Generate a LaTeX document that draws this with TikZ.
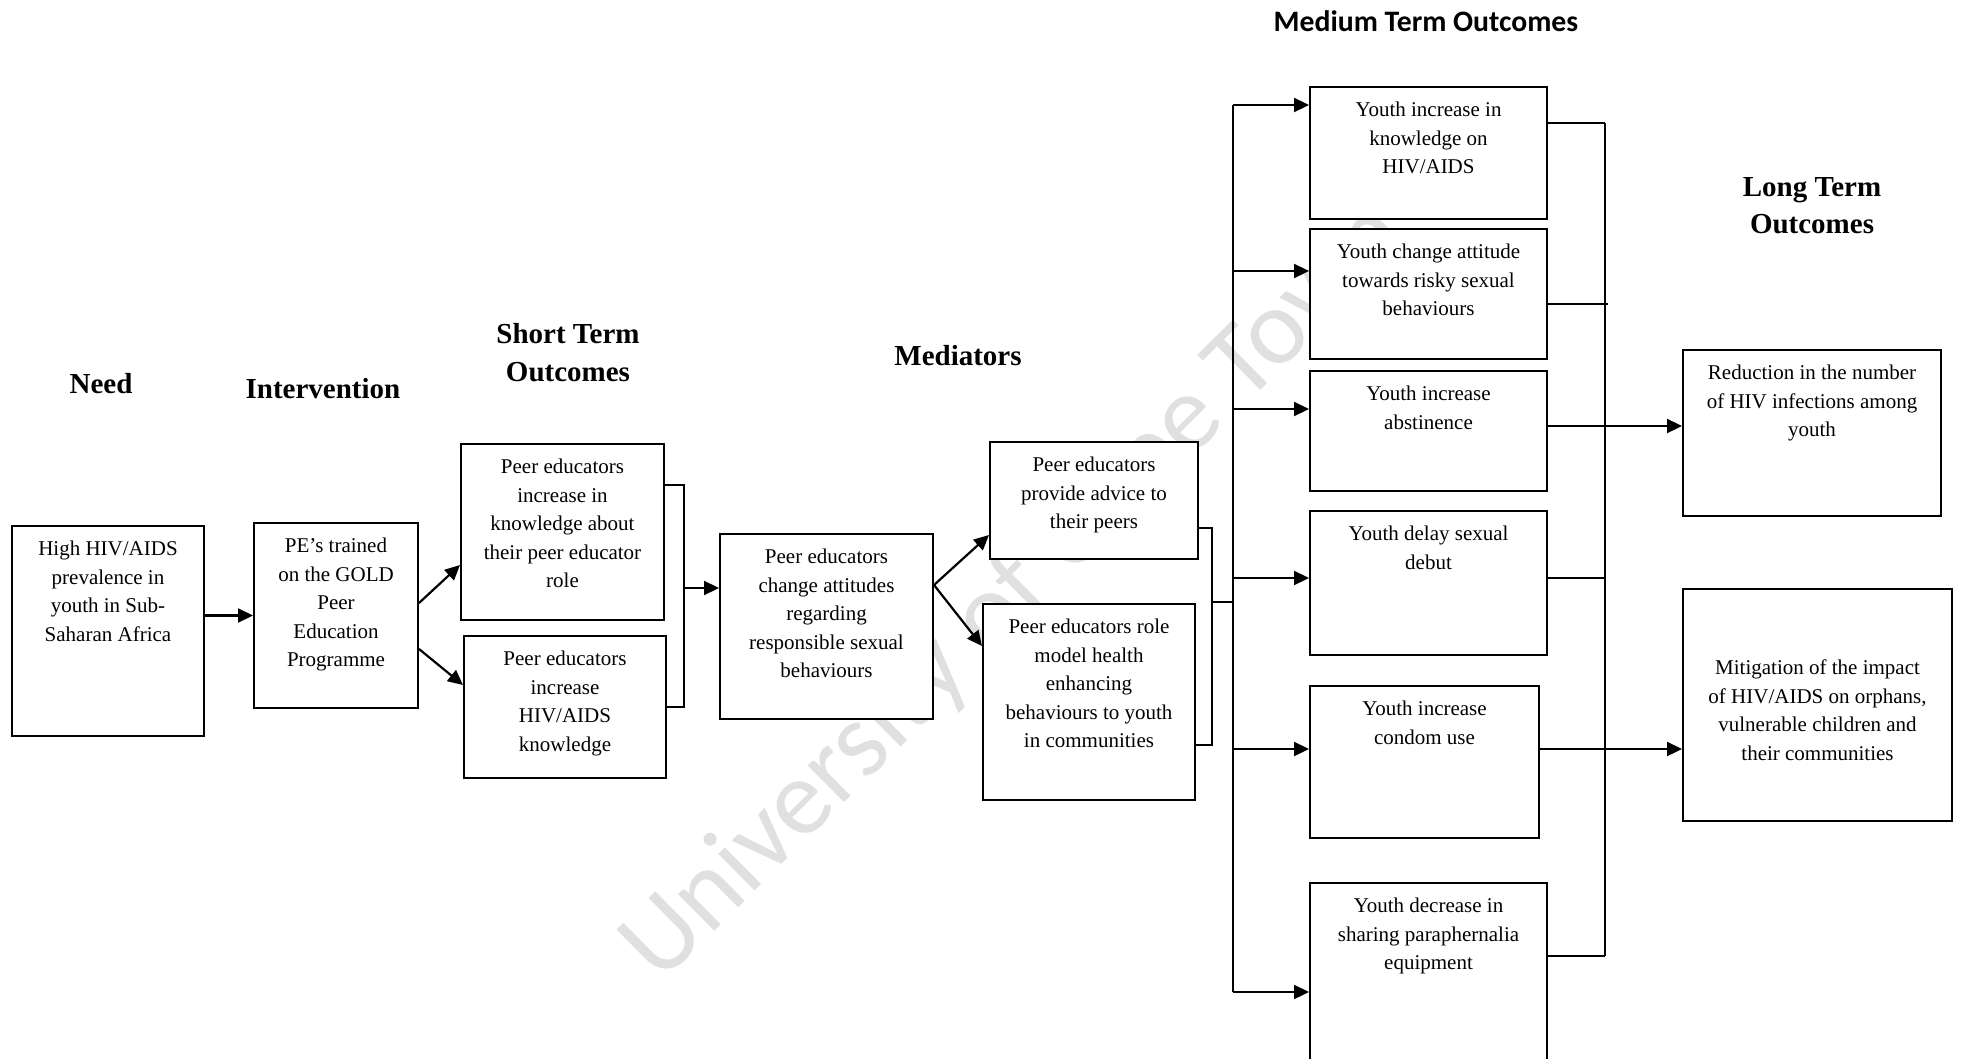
\documentclass[tikz,border=0pt]{standalone}
\usepackage{fontspec}
\setmainfont{Liberation Serif}
\newfontfamily\wmfont{Carlito}
\newfontfamily\calfont{Carlito}
\usetikzlibrary{arrows.meta}
\definecolor{wmgray}{RGB}{224,224,224}
\begin{document}
\begin{tikzpicture}[x=1pt,y=-1pt,
  box/.style={draw, line width=2pt, fill=white, inner sep=0pt, anchor=north west},
  txt/.style={anchor=north, inner sep=0pt, align=center, font=\fontsize{21}{28.5}\selectfont},
  head/.style={inner sep=0pt, align=center, font=\fontsize{29}{38}\selectfont\bfseries},
  arr/.style={line width=2.2pt, -{Triangle[length=15pt,width=14pt]}},
  ln/.style={line width=1.9pt},
  br/.style={line width=1.7pt}]
\fill[white] (0,0) rectangle (1961,1059);
\useasboundingbox (0,0) rectangle (1961,1059);
% watermark
\node[anchor=base west, inner sep=0pt, rotate=44.7, text=wmgray, font=\wmfont\fontsize{108}{108}\selectfont] (wm) at (660,985) {University of Cape Town};
% headings
\node[head] (h-need) at (101,384) {Need};
\node[head] (h-int) at (323,389) {Intervention};
\node[head] (h-st) at (568,353) {Short Term\\Outcomes};
\node[head] (h-med) at (958,356) {Mediators};
\node[inner sep=0pt, font=\calfont\bfseries\fontsize{29.7}{34}\selectfont] (h-mt) at (1426,21) {Medium Term Outcomes};
\node[head, font=\fontsize{29}{37}\selectfont\bfseries] (h-lt) at (1812,206) {Long Term\\Outcomes};
% boxes
\node[box, minimum width=192pt, minimum height=210pt] (need) at (11,525) {};
\node[box, minimum width=164pt, minimum height=185pt] (interv) at (253,522) {};
\node[box, minimum width=203pt, minimum height=176pt] (st1) at (460,443) {};
\node[box, minimum width=202pt, minimum height=142pt] (st2) at (463,635) {};
\node[box, minimum width=213pt, minimum height=185pt] (medl) at (719,533) {};
\node[box, minimum width=208pt, minimum height=117pt] (med1) at (989,441) {};
\node[box, minimum width=212pt, minimum height=196pt] (med2) at (982,603) {};
\node[box, minimum width=237pt, minimum height=132pt] (m1) at (1309,86) {};
\node[box, minimum width=237pt, minimum height=130pt] (m2) at (1309,228) {};
\node[box, minimum width=237pt, minimum height=120pt] (m3) at (1309,370) {};
\node[box, minimum width=237pt, minimum height=144pt] (m4) at (1309,510) {};
\node[box, minimum width=229pt, minimum height=152pt] (m5) at (1309,685) {};
\node[box, minimum width=237pt, minimum height=200pt] (m6) at (1309,882) {};
\node[box, minimum width=258pt, minimum height=166pt] (l1) at (1682,349) {};
\node[box, minimum width=269pt, minimum height=232pt] (l2) at (1682,588) {};
% texts
\node[txt] (need-t) at ([yshift=-16pt]need.north) {High HIV/AIDS\\prevalence in\\youth in Sub-\\Saharan Africa};
\node[txt] (interv-t) at ([yshift=-16pt]interv.north) {PE’s trained\\on the GOLD\\Peer\\Education\\Programme};
\node[txt] (st1-t) at ([yshift=-16pt]st1.north) {Peer educators\\increase in\\knowledge about\\their peer educator\\role};
\node[txt] (st2-t) at ([yshift=-16pt]st2.north) {Peer educators\\increase\\HIV/AIDS\\knowledge};
\node[txt] (medl-t) at ([yshift=-16pt]medl.north) {Peer educators\\change attitudes\\regarding\\responsible sexual\\behaviours};
\node[txt] (med1-t) at ([yshift=-16pt]med1.north) {Peer educators\\provide advice to\\their peers};
\node[txt] (med2-t) at ([yshift=-16pt]med2.north) {Peer educators role\\model health\\enhancing\\behaviours to youth\\in communities};
\node[txt] (m1-t) at ([yshift=-16pt]m1.north) {Youth increase in\\knowledge on\\HIV/AIDS};
\node[txt] (m2-t) at ([yshift=-16pt]m2.north) {Youth change attitude\\towards risky sexual\\behaviours};
\node[txt] (m3-t) at ([yshift=-16pt]m3.north) {Youth increase\\abstinence};
\node[txt] (m4-t) at ([yshift=-16pt]m4.north) {Youth delay sexual\\debut};
\node[txt] (m5-t) at ([yshift=-16pt]m5.north) {Youth increase\\condom use};
\node[txt] (m6-t) at ([yshift=-16pt]m6.north) {Youth decrease in\\sharing paraphernalia\\equipment};
\node[txt] (l1-t) at ([yshift=-16pt]l1.north) {Reduction in the number\\of HIV infections among\\youth};
\node[txt] (l2-t) at ([yshift=-72pt]l2.north) {Mitigation of the impact\\of HIV/AIDS on orphans,\\vulnerable children and\\their communities};
% connectors: need -> intervention -> short term
\draw[arr] (need.east |- interv.west) -- (interv.west);
\draw[arr] ([yshift=12.5pt]interv.east) -- ([yshift=-33pt]st1.west);
\draw[arr] ([yshift=-33.5pt]interv.east) -- ([yshift=22pt]st2.west);
% short-term bracket
\coordinate (stx) at (684,588);
\draw[br] ([yshift=47pt]st1.east) -| (stx) |- (st2.east);
\draw[arr] (stx) -- (medl.west |- stx);
% mediators
\draw[arr] ([yshift=41.5pt]medl.east) -- ([yshift=-34.5pt]med1.west);
\draw[arr] ([yshift=41.5pt]medl.east) -- ([yshift=56pt]med2.west);
\coordinate (mbx) at (1212,602);
\coordinate (lt0) at (1233,602);
\draw[br] ([yshift=-27.5pt]med1.east) -| (mbx) |- ([yshift=-43pt]med2.east);
\draw[br] (mbx) -- (lt0);
% left trunk
\coordinate (la1) at (1233,105);
\coordinate (la2) at (1233,271);
\coordinate (la3) at (1233,409);
\coordinate (la4) at (1233,578);
\coordinate (la5) at (1233,749);
\coordinate (la6) at (1233,992);
\draw[ln] (la1) -- (la6);
\draw[arr] (la1) -- (m1.west |- la1);
\draw[arr] (la2) -- (m2.west |- la2);
\draw[arr] (la3) -- (m3.west |- la3);
\draw[arr] (la4) -- (m4.west |- la4);
\draw[arr] (la5) -- (m5.west |- la5);
\draw[arr] (la6) -- (m6.west |- la6);
% right trunk
\coordinate (rb1) at (1605,123);
\coordinate (rb2) at (1608,304);
\coordinate (rb3) at (1605,426);
\coordinate (rb4) at (1605,578);
\coordinate (rb5) at (1605,749);
\coordinate (rb6) at (1605,956);
\draw[br] (rb1) -- (rb6);
\draw[br] (m1.east |- rb1) -- (rb1);
\draw[br] (m2.east |- rb2) -- (rb2);
\draw[br] (m4.east |- rb4) -- (rb4);
\draw[br] (m6.east |- rb6) -- (rb6);
\draw[br] (m3.east |- rb3) -- (rb3);
\draw[br] (m5.east |- rb5) -- (rb5);
\draw[arr] (rb3) -- (l1.west |- rb3);
\draw[arr] (rb5) -- (l2.west |- rb5);
\end{tikzpicture}
\end{document}
